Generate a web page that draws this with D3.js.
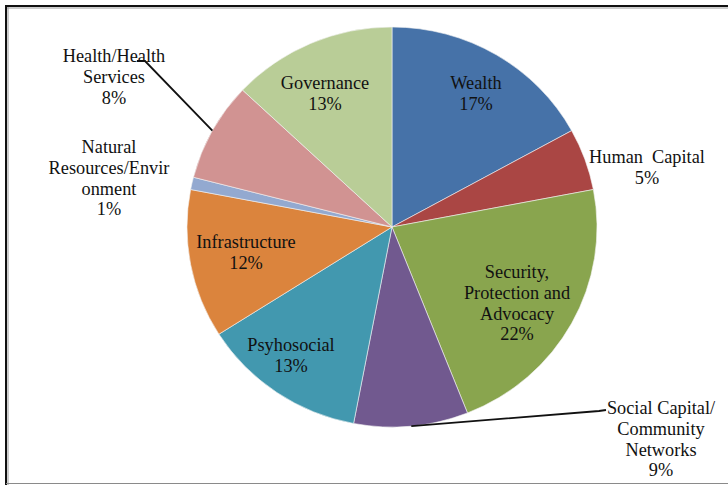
<!DOCTYPE html>
<html>
<head>
<meta charset="utf-8">
<script src="https://cdn.jsdelivr.net/npm/d3@7/dist/d3.min.js"></script>
<style>
  html, body { margin: 0; padding: 0; background: #fff; }
  svg { display: block; }
  text { font-family: "Liberation Serif", "Times New Roman", serif; fill: #111; }
</style>
</head>
<body>
<svg id="chart" width="728" height="485"></svg>
<script>
// Share of themes (percent), clockwise from 12 o'clock
const categories = [
  "Wealth", "Human Capital", "Security, Protection and Advocacy",
  "Social Capital/ Community Networks", "Psyhosocial", "Infrastructure",
  "Natural Resources/Environment", "Health/Health Services", "Governance"
];
const values = [17, 5, 22, 9, 13, 12, 1, 8, 13];
const colors = [
  "#4672a8", "#aa4644", "#89a54e", "#71598f", "#4298af",
  "#db843d", "#93a9d0", "#d19392", "#b9cd97"
];
// Label text broken into lines as drawn
const labelLines = [
  ["Wealth"],
  ["Human\u00a0 Capital"],
  ["Security,", "Protection and", "Advocacy"],
  ["Social Capital/", "Community", "Networks"],
  ["Psyhosocial"],
  ["Infrastructure"],
  ["Natural", "Resources/Envir", "onment"],
  ["Health/Health", "Services"],
  ["Governance"]
];

// Layout: label anchor (centre x, centre y of first line) and leader lines
const labelPos = [
  [476, 83], [647, 157], [517, 272], [661, 408], [291, 345],
  [246, 242], [109, 147], [114, 56], [325, 83]
];
const leaders = { 3: [[606, 410], [599, 411]], 7: [[137, 61], [145, 61]] };

const cx = 392, cy = 227, r = 200, sx = 1.025;
const fontSize = 18.3, lineGap = 20.6;

const svg = d3.select("#chart");

// frame
svg.append("line").attr("x1", 6).attr("x2", 728).attr("y1", 8).attr("y2", 8)
  .attr("stroke", "#9a9a9a").attr("stroke-width", 1);
svg.append("line").attr("x1", 8).attr("x2", 8).attr("y1", 6).attr("y2", 485)
  .attr("stroke", "#9a9a9a").attr("stroke-width", 1);
svg.append("line").attr("x1", 5).attr("x2", 728).attr("y1", 6).attr("y2", 6)
  .attr("stroke", "#111").attr("stroke-width", 2);
svg.append("line").attr("x1", 6).attr("x2", 6).attr("y1", 5).attr("y2", 485)
  .attr("stroke", "#111").attr("stroke-width", 2);
svg.append("line").attr("x1", 6).attr("x2", 728).attr("y1", 483.5).attr("y2", 483.5)
  .attr("stroke", "#8a8a8a").attr("stroke-width", 1.2);

const pie = d3.pie().sort(null).value(d => d)(values);
const arc = d3.arc().innerRadius(0).outerRadius(r);

const g = svg.append("g")
  .attr("transform", `translate(${cx},${cy}) scale(${sx},1)`);

g.selectAll("path").data(pie).join("path")
  .attr("d", arc)
  .attr("fill", (d, i) => colors[i])
  .attr("stroke", "#f4f4f4")
  .attr("stroke-width", 0.6)
  .attr("vector-effect", "non-scaling-stroke");

// leader lines from slice edge to outside labels
Object.entries(leaders).forEach(([k, pts]) => {
  const d = pie[+k];
  const a = (d.startAngle + d.endAngle) / 2;
  const edge = [cx + sx * r * Math.sin(a), cy - r * Math.cos(a)];
  const path = [edge, pts[1], pts[0]];
  svg.append("path")
    .attr("d", d3.line()(path))
    .attr("fill", "none")
    .attr("stroke", "#111")
    .attr("stroke-width", 1.8);
});

// labels
const labels = svg.append("g");
values.forEach((v, i) => {
  const lines = labelLines[i].concat([v + "%"]);
  const [lx, ly] = labelPos[i];
  const t = labels.append("text")
    .attr("text-anchor", "middle")
    .attr("font-size", fontSize);
  lines.forEach((s, j) => {
    t.append("tspan")
      .attr("x", lx)
      .attr("y", ly + j * lineGap)
      .attr("dy", "0.35em")
      .text(s);
  });
});
</script>
</body>
</html>
